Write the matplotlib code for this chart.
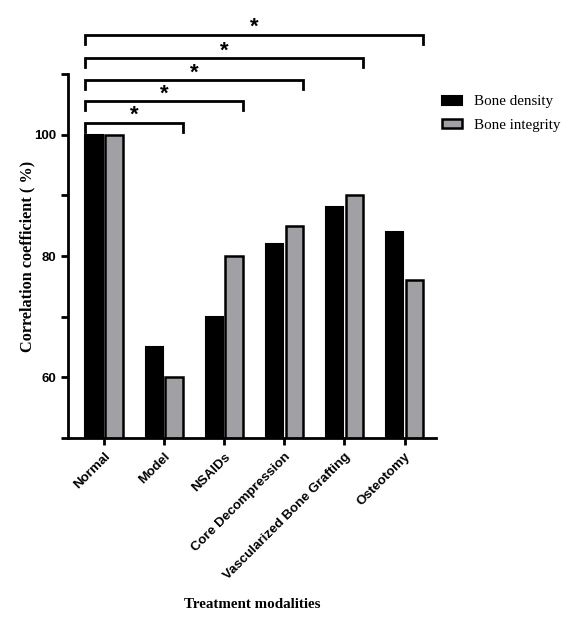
import matplotlib
matplotlib.use("Agg")
import matplotlib.pyplot as plt
import numpy as np
from matplotlib.patches import Patch
from matplotlib.ticker import MultipleLocator

categories = ["Normal", "Model", "NSAIDs", "Core Decompression",
              "Vascularized Bone Grafting", "Osteotomy"]
bone_density = [100, 65, 70, 82, 88, 84]
bone_integrity = [100, 60, 80, 85, 90, 76]
# significance brackets: (group start, group end, y level)
comparisons = [(0, 1), (0, 2), (0, 3), (0, 4), (0, 5)]
bracket_levels = [102.0, 105.5, 109.0, 112.6, 116.5]

fig = plt.figure(figsize=(5.78, 6.25), dpi=100)
ax = fig.add_axes([0.1176, 0.2992, 0.6364, 0.5824])

x = np.arange(len(categories))
w = 0.29
off = 0.165
ax.bar(x - off, bone_density, width=w, color="black", edgecolor="black",
       linewidth=1.5, label="Bone density", zorder=2)
ax.bar(x + off, bone_integrity, width=w, color="#a1a1a5", edgecolor="black",
       linewidth=1.8, label="Bone integrity", zorder=2)

ax.set_ylim(50, 110)
ax.set_xlim(-0.6, 5.52)
ax.yaxis.set_major_locator(MultipleLocator(20))
ax.yaxis.set_minor_locator(MultipleLocator(10))
ax.set_yticks([60, 80, 100])
ax.set_xticks(x)
ax.set_xticklabels(categories, rotation=45, ha="right", rotation_mode="anchor",
                   fontsize=9.6, fontweight="bold", family="Liberation Sans")
for lab in ax.get_yticklabels():
    lab.set_fontsize(9.5)
    lab.set_fontweight("bold")
    lab.set_family("Liberation Sans")

for s in ["top", "right"]:
    ax.spines[s].set_visible(False)
for s in ["left", "bottom"]:
    ax.spines[s].set_linewidth(2)
ax.tick_params(axis="both", which="major", length=5, width=2, direction="out")
ax.tick_params(axis="y", which="minor", length=5, width=2, direction="out")
ax.tick_params(axis="x", pad=4)

ax.set_ylabel("Correlation coefficient ( %)", family="Liberation Serif",
              fontweight="bold", fontsize=11.7, labelpad=-1)
ax.set_xlabel("Treatment modalities", family="Liberation Serif",
              fontweight="bold", fontsize=10.8, labelpad=12)

drop = 1.5
for (a, b), yl in zip(comparisons, bracket_levels):
    x0 = x[a] - off - w / 2
    x1 = x[b] + off + w / 2
    ax.plot([x0, x0, x1, x1], [yl - drop, yl, yl, yl - drop], color="black",
            lw=2, clip_on=False, solid_joinstyle="miter")
    ax.text((x0 + x1) / 2, yl + 0.25, "*", ha="center", va="baseline",
            fontsize=16, fontweight="bold", clip_on=False,
            family="Liberation Sans")

handles = [Patch(facecolor="black", edgecolor="black", linewidth=1.5),
           Patch(facecolor="#a1a1a5", edgecolor="black", linewidth=1.8)]
fig.legend(handles, ["Bone density", "Bone integrity"], loc="upper left",
           bbox_to_anchor=(0.742, 0.869), frameon=False,
           prop={"family": "Liberation Serif", "size": 10.8},
           handlelength=1.3, handleheight=0.55, handletextpad=0.8,
           labelspacing=0.7)

fig.savefig("out.png", dpi=100)
